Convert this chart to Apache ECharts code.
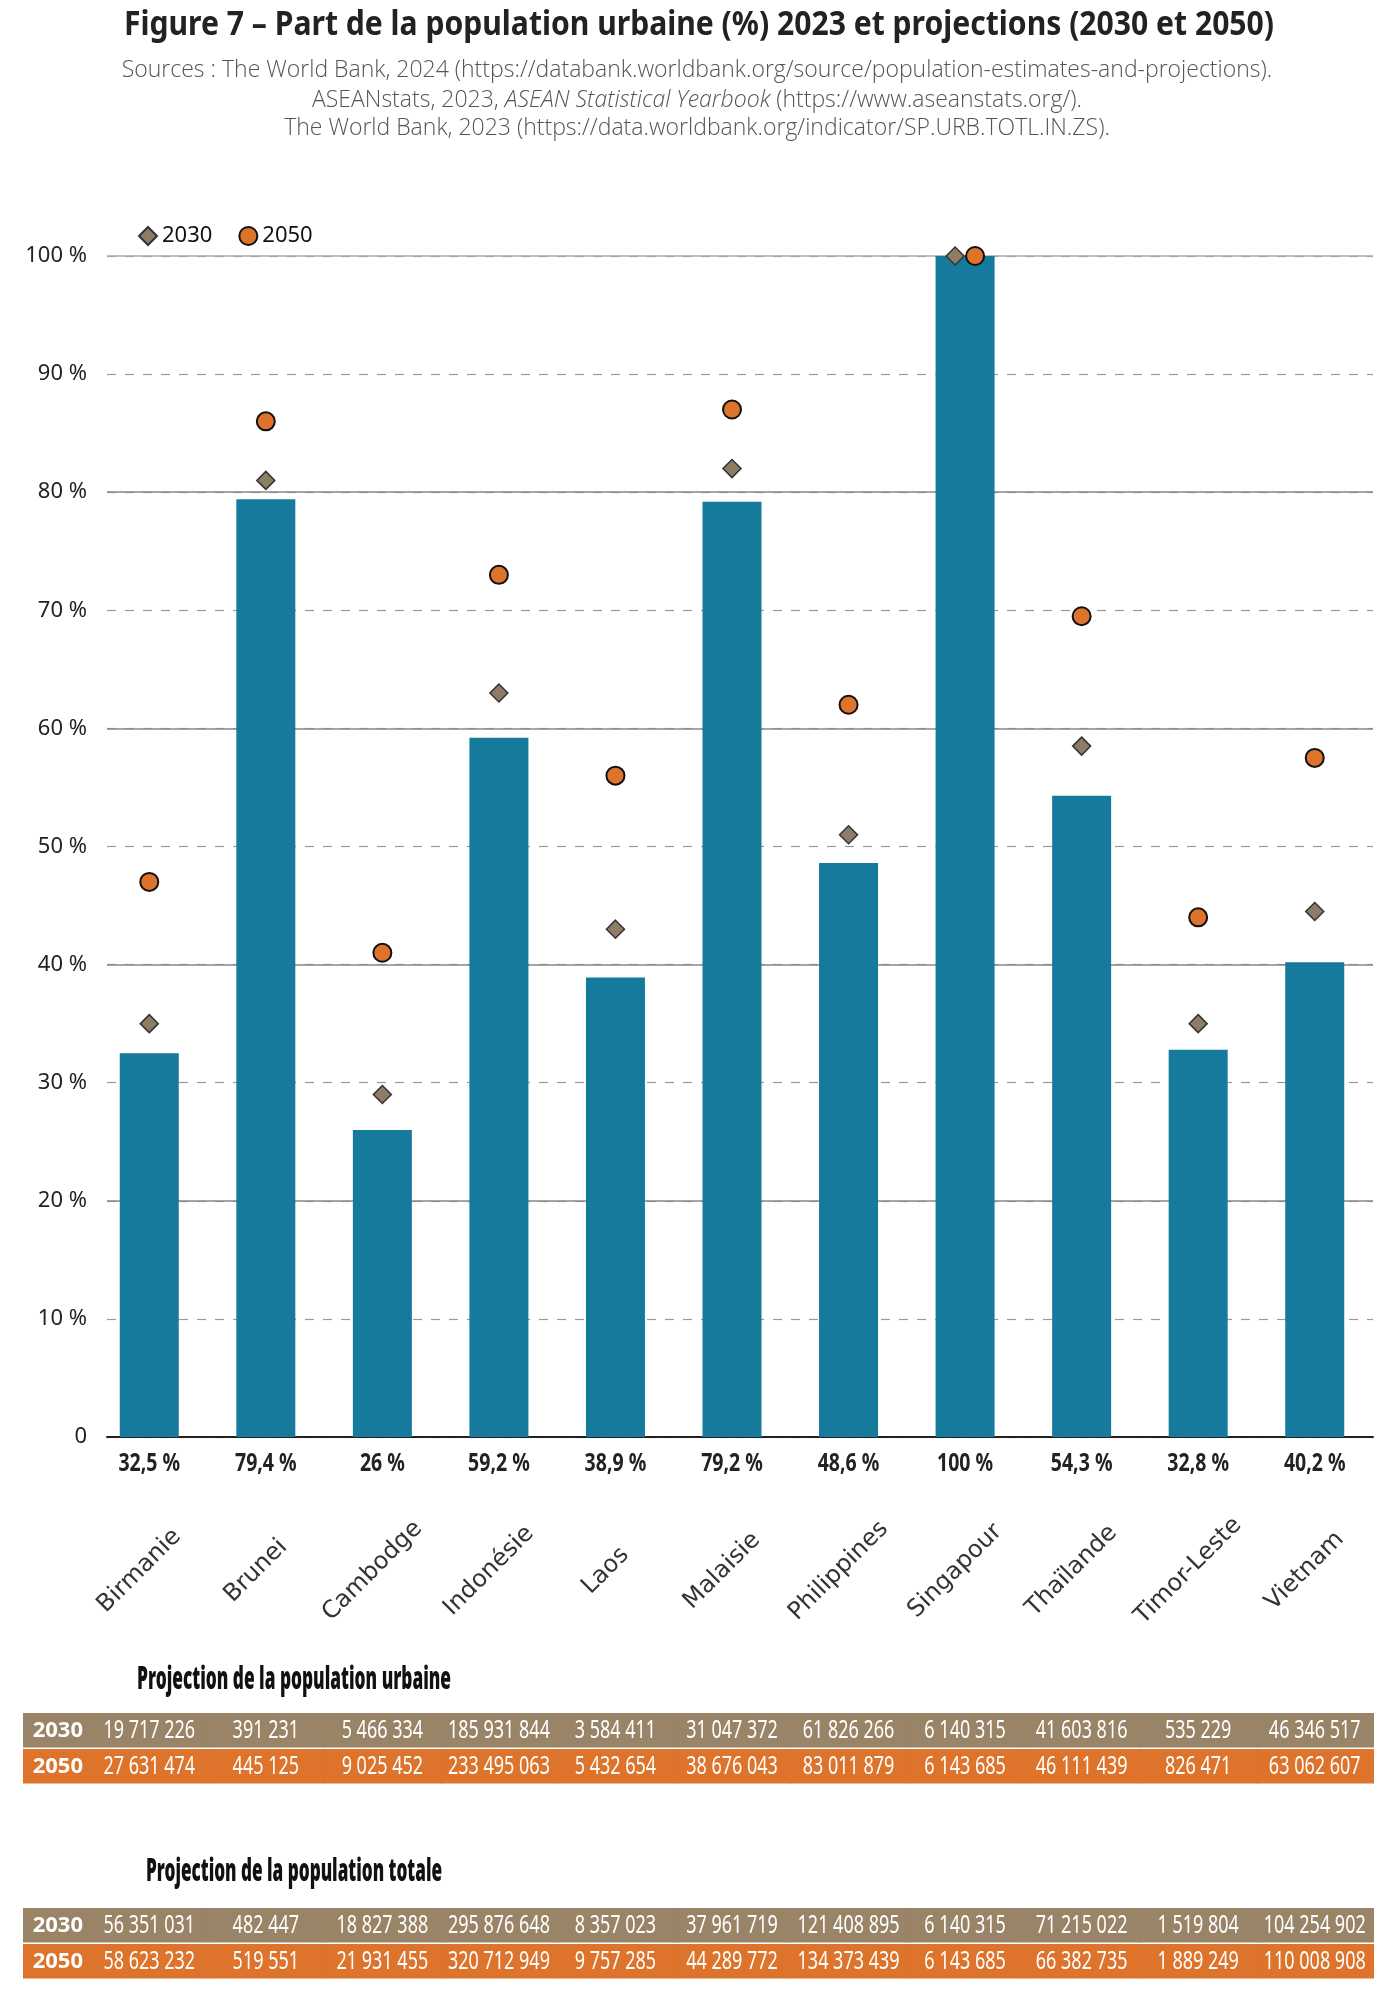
<!DOCTYPE html>
<html>
<head>
<meta charset="utf-8">
<script src="https://cdn.jsdelivr.net/npm/echarts@6/dist/echarts.min.js"></script>
<style>
  html, body { margin: 0; padding: 0; background: #fff; }
  #chart { width: 1394px; height: 2008px; }
</style>
</head>
<body>
<div id="chart"></div>
<script>
var countries = ['Birmanie', 'Brunei', 'Cambodge', 'Indonésie', 'Laos', 'Malaisie',
  'Philippines', 'Singapour', 'Thaïlande', 'Timor-Leste', 'Vietnam'];
var urban2023 = [32.5, 79.4, 26, 59.2, 38.9, 79.2, 48.6, 100, 54.3, 32.8, 40.2];
var urban2030 = [35, 81, 29, 63, 43, 82, 51, 100, 58.5, 35, 44.5];
var urban2050 = [47, 86, 41, 73, 56, 87, 62, 100, 69.5, 44, 57.5];
var yTicks = [0, 10, 20, 30, 40, 50, 60, 70, 80, 90, 100];

var tableYears = ['2030', '2050'];
var urbanPop2030 = [19717226, 391231, 5466334, 185931844, 3584411, 31047372, 61826266, 6140315, 41603816, 535229, 46346517];
var urbanPop2050 = [27631474, 445125, 9025452, 233495063, 5432654, 38676043, 83011879, 6143685, 46111439, 826471, 63062607];
var totalPop2030 = [56351031, 482447, 18827388, 295876648, 8357023, 37961719, 121408895, 6140315, 71215022, 1519804, 104254902];
var totalPop2050 = [58623232, 519551, 21931455, 320712949, 9757285, 44289772, 134373439, 6143685, 66382735, 1889249, 110008908];

var SANS = "'Noto Sans', sans-serif";
var C_BAR = '#157a9c', C_2030 = '#9a8467', C_2050 = '#de732c';

function pct(v) { return String(v).replace('.', ',') + ' %'; }
function thousands(v) { return String(v).replace(/\B(?=(\d{3})+(?!\d))/g, ' '); }

// no condensed face is installed, so titles are squeezed to the width they have in the original
var measureCtx = document.createElement('canvas').getContext('2d');
function squeeze(text, font, width) {
  measureCtx.font = font;
  return width / measureCtx.measureText(text).width;
}
function squeezedText(text, font, width, x, y, color) {
  return {
    type: 'text', x: x, y: y, scaleX: squeeze(text, font, width),
    style: { text: text, font: font, fill: color, align: 'center', verticalAlign: 'middle' }
  };
}

// points that sit on top of each other are nudged apart
function scatterData(values, other, dx) {
  return values.map(function (v, i) {
    if (v === other[i]) return { value: v, symbolOffset: [dx, 0] };
    return v;
  });
}

function tableData(row0, row1) {
  var out = [];
  row0.forEach(function (v, i) { out.push([i, 0, v]); });
  row1.forEach(function (v, i) { out.push([i, 1, v]); });
  return out;
}

// value of each bar written under the axis, narrow bold
function renderBarValue(params, api) {
  var c = api.coord([api.value(0), 0]);
  return {
    type: 'text', x: c[0], y: c[1] + 27, scaleX: 0.78,
    style: {
      text: pct(api.value(1)), x: 0, y: 0, align: 'center', verticalAlign: 'middle',
      fill: '#222', font: 'bold 25px ' + SANS
    }
  };
}

var rowColors = [C_2030, C_2050];
function renderCell(params, api) {
  var cat = api.value(0), row = api.value(1);
  var c = api.coord([cat, row]);
  var s = api.size([1, 1]);
  var x0 = c[0] - s[0] / 2, x1 = c[0] + s[0] / 2 + 1;
  if (cat === 0) x0 = 23;
  return {
    type: 'group',
    children: [{
      type: 'rect', z2: 0,
      shape: { x: x0, y: c[1] - s[1] / 2, width: x1 - x0, height: s[1] - 1.5 },
      style: { fill: rowColors[row] }
    }, {
      type: 'text', z2: 10, x: c[0], y: c[1], scaleX: 0.72,
      style: {
        text: thousands(api.value(2)), x: 0, y: 0,
        align: 'center', verticalAlign: 'middle',
        fill: '#fff', font: '25px ' + SANS
      }
    }]
  };
}

var chart = echarts.init(document.getElementById('chart'));

var subStyle = { fontFamily: "'Open Sans', 'DejaVu Sans', sans-serif", fontSize: 23, fontWeight: 300, color: '#555' };

var option = {
  animation: false,
  backgroundColor: '#fff',
  graphic: [
    squeezedText('Figure 7 – Part de la population urbaine (%) 2023 et projections (2030 et 2050)',
      'bold 34px ' + SANS, 1150, 699, 25, '#222'),
    squeezedText('Projection de la population urbaine', '900 31px ' + SANS, 314, 294, 1680, '#111'),
    squeezedText('Projection de la population totale', '900 31px ' + SANS, 296, 294, 1872, '#111')
  ],
  title: [{
    text: 'Sources : The World Bank, 2024 (https://databank.worldbank.org/source/population-estimates-and-projections).',
    left: 'center', top: 54,
    textStyle: subStyle
  }, {
    text: 'ASEANstats, 2023, {i|ASEAN Statistical Yearbook} (https://www.aseanstats.org/).',
    left: 'center', top: 84,
    textStyle: Object.assign({
      rich: { i: Object.assign({ fontStyle: 'italic' }, subStyle) }
    }, subStyle)
  }, {
    text: 'The World Bank, 2023 (https://data.worldbank.org/indicator/SP.URB.TOTL.IN.ZS).',
    left: 'center', top: 112,
    textStyle: subStyle
  }],
  legend: {
    left: 133, top: 220,
    itemWidth: 18, itemHeight: 18, itemGap: 26,
    textStyle: { fontFamily: SANS, fontSize: 22, color: '#111' },
    data: ['2030', '2050']
  },
  grid: [
    { left: 107, right: 21, top: 256, height: 1181 },
    { left: 91, right: 21, top: 256, height: 1181 },
    { left: 91, right: 21, top: 1713, height: 72 },
    { left: 91, right: 21, top: 1908, height: 72 }
  ],
  xAxis: [{
    gridIndex: 0, type: 'category', data: countries,
    axisLine: { lineStyle: { color: '#222', width: 2 } },
    axisTick: { show: false }, axisLabel: { show: false }
  }, {
    gridIndex: 1, type: 'category', data: countries,
    axisLine: { show: false }, axisTick: { show: false },
    axisLabel: {
      interval: 0, rotate: 45, margin: 124, padding: [0, 28, 0, 0],
      align: 'center', verticalAlign: 'middle',
      fontFamily: "'DejaVu Sans', sans-serif", fontSize: 24, color: '#333'
    }
  }, {
    gridIndex: 2, type: 'category', data: countries, show: false
  }, {
    gridIndex: 3, type: 'category', data: countries, show: false
  }],
  yAxis: [{
    gridIndex: 0, type: 'value', min: yTicks[0], max: yTicks[yTicks.length - 1], interval: 10,
    axisLine: { show: false }, axisTick: { show: false },
    axisLabel: {
      margin: 20, fontFamily: SANS, fontSize: 22, color: '#222',
      formatter: function (v) { return v === 0 ? '0' : v + ' %'; }
    },
    splitLine: { lineStyle: { color: '#999', width: 1.2, type: [9, 9] } }
  }, {
    gridIndex: 0, type: 'value', min: 0, max: 100, interval: 20, position: 'left',
    axisLine: { show: false }, axisTick: { show: false }, axisLabel: { show: false },
    splitLine: { lineStyle: { color: ['#888', '#888', '#888', '#888', '#888', '#aaa'], width: 1.5 } }
  }, {
    gridIndex: 1, type: 'value', min: 0, max: 100, show: false
  }, {
    gridIndex: 2, type: 'category', data: tableYears, inverse: true, z: 10,
    axisLine: { show: false }, axisTick: { show: false },
    axisLabel: { margin: 8, fontFamily: SANS, fontSize: 22, fontWeight: 'bold', color: '#fff' }
  }, {
    gridIndex: 3, type: 'category', data: tableYears, inverse: true, z: 10,
    axisLine: { show: false }, axisTick: { show: false },
    axisLabel: { margin: 8, fontFamily: SANS, fontSize: 22, fontWeight: 'bold', color: '#fff' }
  }],
  series: [{
    name: '2023', type: 'bar', xAxisIndex: 1, yAxisIndex: 2,
    data: urban2023, barWidth: 59,
    itemStyle: { color: C_BAR }
  }, {
    type: 'custom', xAxisIndex: 1, yAxisIndex: 2, z: 4,
    renderItem: renderBarValue,
    data: urban2023.map(function (v, i) { return [i, v]; })
  }, {
    name: '2030', type: 'scatter', xAxisIndex: 1, yAxisIndex: 2, z: 5,
    symbol: 'diamond', symbolSize: 18,
    data: scatterData(urban2030, urban2050, -10),
    itemStyle: { color: '#8e7c66', borderColor: '#333', borderWidth: 1.5, opacity: 1 }
  }, {
    name: '2050', type: 'scatter', xAxisIndex: 1, yAxisIndex: 2, z: 6,
    symbol: 'circle', symbolSize: 18,
    data: scatterData(urban2050, urban2030, 10),
    itemStyle: { color: C_2050, borderColor: '#111', borderWidth: 2, opacity: 1 }
  }, {
    type: 'custom', xAxisIndex: 2, yAxisIndex: 3,
    renderItem: renderCell, data: tableData(urbanPop2030, urbanPop2050)
  }, {
    type: 'custom', xAxisIndex: 3, yAxisIndex: 4,
    renderItem: renderCell, data: tableData(totalPop2030, totalPop2050)
  }]
};

chart.setOption(option);
</script>
</body>
</html>
